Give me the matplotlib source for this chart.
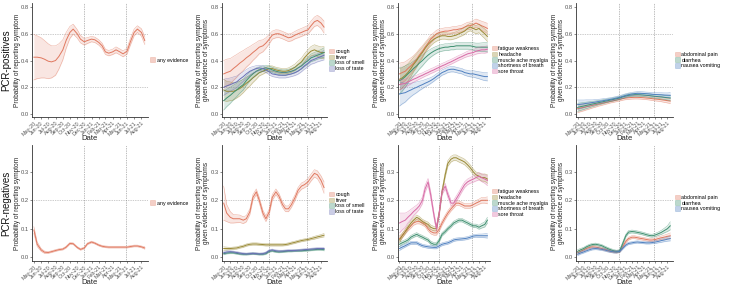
import matplotlib
matplotlib.use("Agg")
from matplotlib import pyplot as plt
from matplotlib.patches import Patch
import matplotlib.dates as mdates
import numpy as np
import pandas as pd

plt.rcParams['font.family'] = ['Liberation Sans', 'DejaVu Sans']

# -------- data ----------#
# semi-monthly estimates, May-20 .. mid Aug-21
dates = pd.date_range('2020-05-01', periods=32, freq='SMS')
month_ticks = pd.date_range('2020-05-01', '2021-08-01', freq='MS')
vline_dates = [pd.Timestamp('2020-11-28'), pd.Timestamp('2021-05-26')]

# PCR-positives, any evidence
pos_any = [0.425, 0.425, 0.42, 0.41, 0.395, 0.39, 0.40, 0.43, 0.48, 0.55, 0.61, 0.635, 0.60, 0.56, 0.54, 0.55,
           0.56, 0.555, 0.535, 0.51, 0.465, 0.455, 0.465, 0.48, 0.465, 0.45, 0.47, 0.54, 0.61, 0.635, 0.61, 0.55]
pos_any_w = [0.17, 0.16, 0.15, 0.14, 0.13, 0.12, 0.11, 0.095, 0.075, 0.06, 0.045, 0.037, 0.032, 0.028, 0.025, 0.022,
             0.02, 0.02, 0.02, 0.02, 0.02, 0.02, 0.02, 0.022, 0.022, 0.022, 0.022, 0.025, 0.025, 0.025, 0.028, 0.03]

# PCR-positives, classic symptoms
pos_cough = [0.30, 0.31, 0.32, 0.34, 0.36, 0.38, 0.40, 0.42, 0.44, 0.46, 0.48, 0.50, 0.51, 0.53, 0.56, 0.59,
             0.60, 0.60, 0.59, 0.58, 0.57, 0.575, 0.59, 0.60, 0.61, 0.62, 0.63, 0.66, 0.69, 0.70, 0.68, 0.65]
pos_cough_w = [0.10, 0.10, 0.095, 0.09, 0.085, 0.08, 0.075, 0.07, 0.065, 0.06, 0.055, 0.05, 0.045, 0.04, 0.035, 0.03,
               0.03, 0.028, 0.028, 0.028, 0.028, 0.028, 0.028, 0.03, 0.03, 0.03, 0.032, 0.035, 0.035, 0.038, 0.04, 0.045]
pos_fever = [0.18, 0.17, 0.17, 0.17, 0.18, 0.19, 0.21, 0.23, 0.25, 0.27, 0.29, 0.31, 0.32, 0.33, 0.34, 0.34,
             0.33, 0.325, 0.32, 0.32, 0.325, 0.335, 0.35, 0.37, 0.39, 0.42, 0.45, 0.47, 0.48, 0.47, 0.46, 0.46]
pos_fever_w = [0.08, 0.075, 0.07, 0.065, 0.06, 0.055, 0.05, 0.045, 0.04, 0.035, 0.03, 0.025, 0.022, 0.02, 0.02, 0.02,
               0.02, 0.02, 0.02, 0.02, 0.02, 0.022, 0.024, 0.026, 0.028, 0.03, 0.032, 0.035, 0.038, 0.04, 0.042, 0.045]
pos_smell = [0.10, 0.12, 0.14, 0.16, 0.18, 0.20, 0.22, 0.25, 0.28, 0.30, 0.32, 0.33, 0.34, 0.345, 0.34, 0.33,
             0.32, 0.315, 0.31, 0.31, 0.315, 0.32, 0.33, 0.345, 0.36, 0.38, 0.40, 0.42, 0.43, 0.44, 0.45, 0.46]
pos_smell_w = [0.07, 0.065, 0.06, 0.055, 0.05, 0.045, 0.04, 0.036, 0.032, 0.028, 0.025, 0.022, 0.02, 0.02, 0.02, 0.02,
               0.02, 0.02, 0.02, 0.02, 0.02, 0.02, 0.022, 0.022, 0.024, 0.025, 0.026, 0.028, 0.03, 0.03, 0.032, 0.035]
pos_taste = [0.20, 0.21, 0.22, 0.23, 0.24, 0.26, 0.28, 0.30, 0.32, 0.33, 0.34, 0.345, 0.34, 0.33, 0.315, 0.30,
             0.295, 0.29, 0.29, 0.29, 0.295, 0.30, 0.31, 0.32, 0.34, 0.36, 0.38, 0.40, 0.41, 0.42, 0.43, 0.44]
pos_taste_w = [0.06, 0.055, 0.05, 0.047, 0.044, 0.04, 0.036, 0.032, 0.028, 0.025, 0.022, 0.02, 0.02, 0.02, 0.02, 0.02,
               0.02, 0.02, 0.02, 0.02, 0.02, 0.02, 0.022, 0.022, 0.024, 0.025, 0.026, 0.028, 0.03, 0.03, 0.032, 0.035]

# PCR-positives, other symptoms
pos_fatigue = [0.30, 0.31, 0.32, 0.34, 0.36, 0.38, 0.41, 0.44, 0.47, 0.50, 0.53, 0.56, 0.58, 0.60, 0.61, 0.615,
               0.62, 0.62, 0.625, 0.63, 0.63, 0.635, 0.64, 0.65, 0.66, 0.66, 0.67, 0.68, 0.67, 0.66, 0.65, 0.64]
pos_fatigue_w = [0.08, 0.075, 0.07, 0.065, 0.06, 0.055, 0.05, 0.045, 0.04, 0.035, 0.032, 0.03, 0.028, 0.026, 0.025, 0.025,
                 0.025, 0.025, 0.025, 0.025, 0.025, 0.025, 0.025, 0.025, 0.026, 0.028, 0.03, 0.03, 0.032, 0.034, 0.036, 0.038]
pos_headache = [0.26, 0.27, 0.29, 0.31, 0.34, 0.37, 0.40, 0.43, 0.46, 0.49, 0.52, 0.54, 0.56, 0.57, 0.58, 0.585,
                0.585, 0.58, 0.58, 0.585, 0.59, 0.60, 0.61, 0.62, 0.64, 0.65, 0.64, 0.63, 0.64, 0.62, 0.60, 0.58]
pos_headache_w = [0.08, 0.075, 0.07, 0.065, 0.06, 0.055, 0.05, 0.045, 0.04, 0.035, 0.032, 0.03, 0.028, 0.026, 0.025, 0.025,
                  0.025, 0.025, 0.025, 0.025, 0.025, 0.025, 0.025, 0.025, 0.026, 0.028, 0.03, 0.03, 0.032, 0.034, 0.036, 0.038]
pos_muscle = [0.25, 0.26, 0.28, 0.30, 0.32, 0.34, 0.36, 0.38, 0.40, 0.42, 0.44, 0.455, 0.47, 0.48, 0.49, 0.495,
              0.50, 0.50, 0.505, 0.505, 0.51, 0.51, 0.51, 0.51, 0.51, 0.51, 0.505, 0.50, 0.50, 0.50, 0.50, 0.50]
pos_muscle_w = [0.10, 0.09, 0.08, 0.07, 0.06, 0.055, 0.05, 0.045, 0.04, 0.036, 0.032, 0.03, 0.028, 0.026, 0.025, 0.025,
                0.025, 0.025, 0.025, 0.025, 0.025, 0.025, 0.025, 0.025, 0.025, 0.026, 0.028, 0.03, 0.03, 0.032, 0.034, 0.035]
pos_breath = [0.15, 0.155, 0.16, 0.17, 0.18, 0.19, 0.20, 0.21, 0.22, 0.23, 0.24, 0.25, 0.265, 0.28, 0.295, 0.31,
              0.32, 0.33, 0.335, 0.335, 0.33, 0.325, 0.32, 0.31, 0.305, 0.30, 0.30, 0.295, 0.29, 0.285, 0.28, 0.28]
pos_breath_w = [0.09, 0.08, 0.07, 0.06, 0.05, 0.045, 0.04, 0.035, 0.03, 0.027, 0.025, 0.022, 0.02, 0.02, 0.02, 0.02,
                0.02, 0.02, 0.02, 0.02, 0.02, 0.02, 0.02, 0.02, 0.022, 0.022, 0.024, 0.025, 0.026, 0.028, 0.03, 0.032]
pos_throat = [0.22, 0.225, 0.23, 0.24, 0.25, 0.26, 0.27, 0.28, 0.29, 0.30, 0.31, 0.32, 0.33, 0.34, 0.35, 0.36,
              0.37, 0.38, 0.39, 0.40, 0.41, 0.42, 0.43, 0.44, 0.45, 0.455, 0.46, 0.47, 0.475, 0.48, 0.48, 0.485]
pos_throat_w = [0.04, 0.035, 0.03, 0.028, 0.025, 0.022, 0.02, 0.02, 0.018, 0.018, 0.018, 0.018, 0.018, 0.018, 0.018, 0.018,
                0.018, 0.018, 0.018, 0.018, 0.018, 0.018, 0.018, 0.018, 0.02, 0.02, 0.02, 0.022, 0.022, 0.024, 0.025, 0.026]

# PCR-positives, gastrointestinal
pos_abdo = [0.04, 0.045, 0.05, 0.055, 0.06, 0.065, 0.07, 0.075, 0.08, 0.085, 0.09, 0.095, 0.10, 0.105, 0.11, 0.115,
            0.12, 0.122, 0.124, 0.125, 0.125, 0.124, 0.122, 0.12, 0.118, 0.115, 0.112, 0.11, 0.107, 0.104, 0.10, 0.097]
pos_abdo_w = [0.03, 0.028, 0.026, 0.024, 0.022, 0.02, 0.018, 0.016, 0.015, 0.014, 0.013, 0.012, 0.012, 0.012, 0.012, 0.012,
              0.012, 0.012, 0.012, 0.012, 0.012, 0.012, 0.012, 0.012, 0.013, 0.013, 0.014, 0.014, 0.015, 0.016, 0.017, 0.018]
pos_diarr = [0.05, 0.055, 0.06, 0.065, 0.07, 0.075, 0.08, 0.085, 0.09, 0.095, 0.10, 0.105, 0.11, 0.115, 0.12, 0.128,
             0.135, 0.14, 0.143, 0.145, 0.145, 0.144, 0.142, 0.14, 0.138, 0.135, 0.132, 0.13, 0.128, 0.125, 0.122, 0.12]
pos_diarr_w = [0.03, 0.028, 0.026, 0.024, 0.022, 0.02, 0.018, 0.016, 0.015, 0.014, 0.013, 0.012, 0.012, 0.012, 0.012, 0.012,
               0.012, 0.012, 0.012, 0.012, 0.012, 0.012, 0.012, 0.012, 0.013, 0.013, 0.014, 0.014, 0.015, 0.016, 0.017, 0.018]
pos_nausea = [0.07, 0.073, 0.076, 0.08, 0.083, 0.086, 0.09, 0.094, 0.098, 0.102, 0.106, 0.11, 0.115, 0.12, 0.125, 0.132,
              0.14, 0.145, 0.15, 0.153, 0.155, 0.155, 0.154, 0.152, 0.15, 0.148, 0.146, 0.145, 0.144, 0.142, 0.141, 0.14]
pos_nausea_w = [0.035, 0.032, 0.029, 0.026, 0.023, 0.02, 0.018, 0.016, 0.015, 0.014, 0.013, 0.012, 0.012, 0.012, 0.012, 0.012,
                0.012, 0.012, 0.012, 0.012, 0.012, 0.012, 0.012, 0.012, 0.013, 0.013, 0.014, 0.014, 0.015, 0.016, 0.017, 0.02]

# PCR-negatives, any evidence
neg_any = [0.095, 0.045, 0.025, 0.017, 0.016, 0.019, 0.023, 0.026, 0.028, 0.035, 0.048, 0.047, 0.034, 0.027, 0.032, 0.047,
           0.053, 0.049, 0.042, 0.038, 0.036, 0.035, 0.035, 0.035, 0.035, 0.035, 0.035, 0.037, 0.039, 0.039, 0.036, 0.032]
neg_any_w = [0.012, 0.008, 0.005, 0.004, 0.003, 0.003, 0.003, 0.003, 0.003, 0.003, 0.003, 0.003, 0.003, 0.003, 0.003, 0.003,
             0.003, 0.003, 0.003, 0.003, 0.003, 0.003, 0.003, 0.003, 0.003, 0.003, 0.003, 0.003, 0.003, 0.003, 0.003, 0.004]

# PCR-negatives, classic symptoms
neg_cough = [0.19, 0.155, 0.14, 0.135, 0.135, 0.135, 0.13, 0.135, 0.16, 0.21, 0.23, 0.20, 0.155, 0.135, 0.16, 0.21,
             0.23, 0.215, 0.185, 0.17, 0.17, 0.185, 0.21, 0.235, 0.25, 0.255, 0.265, 0.28, 0.295, 0.29, 0.27, 0.245]
neg_cough_w = [0.06, 0.03, 0.02, 0.015, 0.014, 0.013, 0.012, 0.011, 0.01, 0.01, 0.01, 0.01, 0.01, 0.01, 0.01, 0.01,
               0.01, 0.01, 0.01, 0.01, 0.01, 0.01, 0.01, 0.01, 0.011, 0.011, 0.012, 0.012, 0.013, 0.014, 0.016, 0.02]
neg_fever = [0.03, 0.03, 0.03, 0.031, 0.032, 0.035, 0.038, 0.042, 0.045, 0.046, 0.046, 0.045, 0.044, 0.043, 0.043, 0.043,
             0.043, 0.043, 0.043, 0.044, 0.046, 0.049, 0.052, 0.055, 0.058, 0.06, 0.062, 0.065, 0.068, 0.071, 0.074, 0.077]
neg_fever_w = [0.006, 0.005, 0.004, 0.004, 0.004, 0.004, 0.004, 0.004, 0.004, 0.004, 0.004, 0.004, 0.004, 0.004, 0.004, 0.004,
               0.004, 0.004, 0.004, 0.004, 0.004, 0.004, 0.004, 0.004, 0.004, 0.004, 0.004, 0.004, 0.005, 0.005, 0.005, 0.006]
neg_smell = [0.012, 0.014, 0.015, 0.015, 0.013, 0.011, 0.010, 0.010, 0.011, 0.012, 0.011, 0.010, 0.010, 0.012, 0.020, 0.022,
             0.019, 0.018, 0.019, 0.020, 0.021, 0.021, 0.022, 0.022, 0.022, 0.023, 0.024, 0.025, 0.026, 0.027, 0.027, 0.026]
neg_smell_w = [0.004, 0.003, 0.003, 0.003, 0.003, 0.003, 0.003, 0.003, 0.003, 0.003, 0.003, 0.003, 0.003, 0.003, 0.003, 0.003,
               0.003, 0.003, 0.003, 0.003, 0.003, 0.003, 0.003, 0.003, 0.003, 0.003, 0.003, 0.003, 0.003, 0.003, 0.003, 0.004]
neg_taste = [0.015, 0.018, 0.019, 0.018, 0.016, 0.014, 0.012, 0.011, 0.012, 0.013, 0.012, 0.011, 0.012, 0.015, 0.023, 0.025,
             0.022, 0.021, 0.021, 0.022, 0.023, 0.023, 0.023, 0.024, 0.025, 0.026, 0.027, 0.028, 0.029, 0.03, 0.03, 0.03]
neg_taste_w = [0.005, 0.004, 0.003, 0.003, 0.003, 0.003, 0.003, 0.003, 0.003, 0.003, 0.003, 0.003, 0.003, 0.003, 0.003, 0.003,
               0.003, 0.003, 0.003, 0.003, 0.003, 0.003, 0.003, 0.003, 0.003, 0.003, 0.003, 0.003, 0.003, 0.003, 0.003, 0.004]

# PCR-negatives, other symptoms
neg_fatigue = [0.065, 0.075, 0.09, 0.10, 0.11, 0.12, 0.125, 0.125, 0.12, 0.115, 0.10, 0.09, 0.085, 0.085, 0.10, 0.12,
               0.14, 0.155, 0.17, 0.18, 0.19, 0.19, 0.185, 0.18, 0.18, 0.18, 0.185, 0.19, 0.195, 0.20, 0.20, 0.20]
neg_fatigue_w = [0.01, 0.008, 0.008, 0.008, 0.008, 0.008, 0.008, 0.008, 0.008, 0.008, 0.008, 0.008, 0.008, 0.008, 0.008, 0.008,
                 0.008, 0.008, 0.008, 0.008, 0.008, 0.008, 0.008, 0.008, 0.008, 0.008, 0.008, 0.009, 0.009, 0.01, 0.01, 0.012]
neg_headache = [0.06, 0.075, 0.09, 0.105, 0.12, 0.13, 0.14, 0.135, 0.125, 0.12, 0.115, 0.105, 0.10, 0.10, 0.16, 0.23,
                0.29, 0.33, 0.345, 0.35, 0.35, 0.345, 0.34, 0.335, 0.325, 0.315, 0.30, 0.29, 0.285, 0.28, 0.28, 0.275]
neg_headache_w = [0.01, 0.008, 0.008, 0.008, 0.008, 0.008, 0.008, 0.008, 0.008, 0.008, 0.008, 0.008, 0.008, 0.008, 0.008, 0.008,
                  0.009, 0.01, 0.01, 0.01, 0.01, 0.01, 0.01, 0.01, 0.01, 0.01, 0.01, 0.01, 0.011, 0.012, 0.013, 0.015]
neg_muscle = [0.045, 0.05, 0.055, 0.06, 0.07, 0.075, 0.08, 0.075, 0.07, 0.065, 0.06, 0.05, 0.045, 0.045, 0.06, 0.08,
              0.09, 0.10, 0.11, 0.12, 0.125, 0.13, 0.13, 0.125, 0.12, 0.115, 0.11, 0.11, 0.105, 0.11, 0.115, 0.13]
neg_muscle_w = [0.008, 0.006, 0.006, 0.006, 0.006, 0.006, 0.006, 0.006, 0.006, 0.006, 0.006, 0.006, 0.006, 0.006, 0.006, 0.006,
                0.006, 0.006, 0.006, 0.006, 0.006, 0.006, 0.006, 0.006, 0.006, 0.006, 0.006, 0.006, 0.007, 0.008, 0.009, 0.01]
neg_breath = [0.03, 0.035, 0.04, 0.045, 0.05, 0.05, 0.05, 0.045, 0.04, 0.038, 0.036, 0.035, 0.034, 0.034, 0.04, 0.045,
              0.048, 0.05, 0.055, 0.06, 0.062, 0.063, 0.064, 0.065, 0.067, 0.07, 0.074, 0.075, 0.075, 0.075, 0.075, 0.075]
neg_breath_w = [0.007, 0.006, 0.005, 0.005, 0.005, 0.005, 0.005, 0.005, 0.005, 0.005, 0.005, 0.005, 0.005, 0.005, 0.005, 0.005,
                0.005, 0.005, 0.005, 0.005, 0.005, 0.005, 0.005, 0.005, 0.005, 0.005, 0.005, 0.005, 0.006, 0.006, 0.007, 0.008]
neg_throat = [0.12, 0.125, 0.13, 0.14, 0.15, 0.16, 0.17, 0.18, 0.20, 0.24, 0.265, 0.22, 0.15, 0.10, 0.16, 0.23,
              0.25, 0.22, 0.19, 0.19, 0.205, 0.22, 0.24, 0.255, 0.265, 0.27, 0.275, 0.28, 0.285, 0.28, 0.275, 0.27]
neg_throat_w = [0.035, 0.03, 0.025, 0.02, 0.018, 0.015, 0.013, 0.012, 0.012, 0.012, 0.012, 0.012, 0.01, 0.01, 0.01, 0.01,
                0.01, 0.01, 0.01, 0.01, 0.01, 0.01, 0.01, 0.01, 0.01, 0.01, 0.011, 0.012, 0.013, 0.014, 0.015, 0.018]

# PCR-negatives, gastrointestinal
neg_abdo = [0.015, 0.02, 0.025, 0.03, 0.034, 0.036, 0.035, 0.033, 0.03, 0.027, 0.024, 0.021, 0.019, 0.018, 0.02, 0.035,
            0.055, 0.065, 0.07, 0.07, 0.068, 0.066, 0.064, 0.062, 0.06, 0.06, 0.062, 0.065, 0.068, 0.07, 0.073, 0.075]
neg_abdo_w = [0.006, 0.005, 0.004, 0.004, 0.004, 0.004, 0.004, 0.004, 0.004, 0.004, 0.004, 0.004, 0.004, 0.004, 0.004, 0.005,
              0.005, 0.005, 0.005, 0.005, 0.005, 0.005, 0.005, 0.005, 0.005, 0.005, 0.005, 0.006, 0.006, 0.007, 0.008, 0.01]
neg_diarr = [0.02, 0.025, 0.03, 0.036, 0.041, 0.044, 0.045, 0.043, 0.04, 0.035, 0.03, 0.026, 0.022, 0.02, 0.022, 0.045,
             0.075, 0.088, 0.09, 0.089, 0.087, 0.085, 0.082, 0.079, 0.076, 0.075, 0.078, 0.082, 0.087, 0.093, 0.1, 0.11]
neg_diarr_w = [0.006, 0.005, 0.004, 0.004, 0.004, 0.004, 0.004, 0.004, 0.004, 0.004, 0.004, 0.004, 0.004, 0.004, 0.004, 0.005,
               0.005, 0.005, 0.005, 0.005, 0.005, 0.005, 0.005, 0.005, 0.005, 0.005, 0.006, 0.006, 0.007, 0.008, 0.01, 0.014]
neg_nausea = [0.01, 0.014, 0.018, 0.022, 0.026, 0.029, 0.03, 0.029, 0.027, 0.025, 0.022, 0.02, 0.018, 0.018, 0.02, 0.03,
              0.042, 0.048, 0.05, 0.052, 0.053, 0.052, 0.051, 0.05, 0.05, 0.051, 0.053, 0.055, 0.058, 0.06, 0.063, 0.065]
neg_nausea_w = [0.005, 0.004, 0.004, 0.004, 0.004, 0.004, 0.004, 0.004, 0.004, 0.004, 0.004, 0.004, 0.004, 0.004, 0.004, 0.004,
                0.004, 0.004, 0.004, 0.004, 0.004, 0.004, 0.004, 0.004, 0.004, 0.004, 0.005, 0.005, 0.006, 0.006, 0.007, 0.008]

# -------- colours ----------#
c_salmon = '#E0785F'
c_olive = '#9A8A35'
c_green = '#3F9070'
c_blue = '#4F80C0'
c_purple = '#6A70B5'
c_pink = '#D86AA6'

panels = [
    [('any evidence', pos_any, pos_any_w, c_salmon)],
    [('cough', pos_cough, pos_cough_w, c_salmon), ('fever', pos_fever, pos_fever_w, c_olive),
     ('loss of smell', pos_smell, pos_smell_w, c_green), ('loss of taste', pos_taste, pos_taste_w, c_purple)],
    [('fatigue weakness', pos_fatigue, pos_fatigue_w, c_salmon), ('headache', pos_headache, pos_headache_w, c_olive),
     ('muscle ache myalgia', pos_muscle, pos_muscle_w, c_green),
     ('shortness of breath', pos_breath, pos_breath_w, c_blue), ('sore throat', pos_throat, pos_throat_w, c_pink)],
    [('abdominal pain', pos_abdo, pos_abdo_w, c_salmon), ('diarrhea', pos_diarr, pos_diarr_w, c_green),
     ('nausea vomiting', pos_nausea, pos_nausea_w, c_blue)],
    [('any evidence', neg_any, neg_any_w, c_salmon)],
    [('cough', neg_cough, neg_cough_w, c_salmon), ('fever', neg_fever, neg_fever_w, c_olive),
     ('loss of smell', neg_smell, neg_smell_w, c_green), ('loss of taste', neg_taste, neg_taste_w, c_purple)],
    [('fatigue weakness', neg_fatigue, neg_fatigue_w, c_salmon), ('headache', neg_headache, neg_headache_w, c_olive),
     ('muscle ache myalgia', neg_muscle, neg_muscle_w, c_green),
     ('shortness of breath', neg_breath, neg_breath_w, c_blue), ('sore throat', neg_throat, neg_throat_w, c_pink)],
    [('abdominal pain', neg_abdo, neg_abdo_w, c_salmon), ('diarrhea', neg_diarr, neg_diarr_w, c_green),
     ('nausea vomiting', neg_nausea, neg_nausea_w, c_blue)],
]

# -------- layout (pixels) ----------#
W, H = 730, 288
col_x = [(32, 148), (222, 327), (398, 490), (576, 673)]
row_y = [(3, 117), (145, 261)]
date_y = [139, 283]
ylims = [(-0.022, 0.83), (-0.014, 0.395)]
yticks = [[0.0, 0.2, 0.4, 0.6, 0.8], [0.0, 0.1, 0.2, 0.3]]
ylab_x = [18, 203, 380, 558]
ylab1 = 'Probability of reporting symptom'
ylab2 = 'Probability of reporting symptom\ngiven evidence of symptoms'

fig = plt.figure(figsize=(W / 100, H / 100), dpi=100)

for k, series in enumerate(panels):
    r, c = divmod(k, 4)
    x0, x1 = col_x[c]
    y0, y1 = row_y[r]
    ax = fig.add_axes([x0 / W, 1 - y1 / H, (x1 - x0) / W, (y1 - y0) / H])

    handles = []
    for label, m, w, col in series:
        m = np.array(m)
        w = np.array(w)
        ax.fill_between(dates, m - w, m + w, color=col, alpha=0.18, lw=0)
        ax.plot(dates, m - w, color=col, lw=0.4, alpha=0.55)
        ax.plot(dates, m + w, color=col, lw=0.4, alpha=0.55)
        ax.plot(dates, m, color=col, lw=0.7)
        handles.append(Patch(facecolor=col, alpha=0.35, edgecolor=col, lw=0.5, label=label))

    for y in [0.2, 0.6]:
        ax.axhline(y, color='#9a9a9a', lw=0.5, ls=(0, (1, 1.5)), zorder=0)
    for d in vline_dates:
        ax.axvline(d, color='#7a7a7a', lw=0.5, ls=(0, (1, 1.5)), zorder=0)

    ax.set_xlim(dates[0] - pd.Timedelta(days=8), dates[-1] + pd.Timedelta(days=14))
    ax.set_ylim(*ylims[r])
    ax.set_yticks(yticks[r])
    ax.yaxis.set_major_formatter(plt.FormatStrFormatter('%.1f'))
    ax.set_xticks(month_ticks)
    ax.xaxis.set_major_formatter(mdates.DateFormatter('%b-%y'))
    plt.setp(ax.get_xticklabels(), rotation=45, ha='right', rotation_mode='anchor')

    for s in ['top', 'right']:
        ax.spines[s].set_visible(False)
    for s in ['left', 'bottom']:
        ax.spines[s].set_linewidth(0.6)
        ax.spines[s].set_color('#333333')
    ax.tick_params(axis='x', length=1.5, width=0.4, color='#333333', pad=1,
                   labelsize=3.9, labelcolor='#555555')
    ax.tick_params(axis='y', length=1.5, width=0.4, color='#333333', pad=1,
                   labelsize=4.2, labelcolor='#555555')
    ax.set_facecolor('white')

    fig.text((x0 + x1) / 2 / W, 1 - date_y[r] / H, 'Date', ha='center', va='center',
             fontsize=5.5, color='#222222')
    fig.text(ylab_x[c] / W, 1 - ((y0 + y1) / 2) / H, ylab1 if c == 0 else ylab2,
             rotation=90, ha='center', va='center', fontsize=4.7, color='#222222',
             linespacing=1.0)

    ax.legend(handles=handles, loc='center left', bbox_to_anchor=(1.02, 0.5),
              frameon=False, fontsize=3.8, handlelength=0.9, handleheight=0.9,
              handletextpad=0.3, labelspacing=0.15, borderpad=0, borderaxespad=0)

fig.text(6 / W, 1 - 60 / H, 'PCR-positives', rotation=90, ha='center', va='center', fontsize=7, color='#111111')
fig.text(6 / W, 1 - 203 / H, 'PCR-negatives', rotation=90, ha='center', va='center', fontsize=7, color='#111111')

fig.savefig('out.png', dpi=100, facecolor='white')
